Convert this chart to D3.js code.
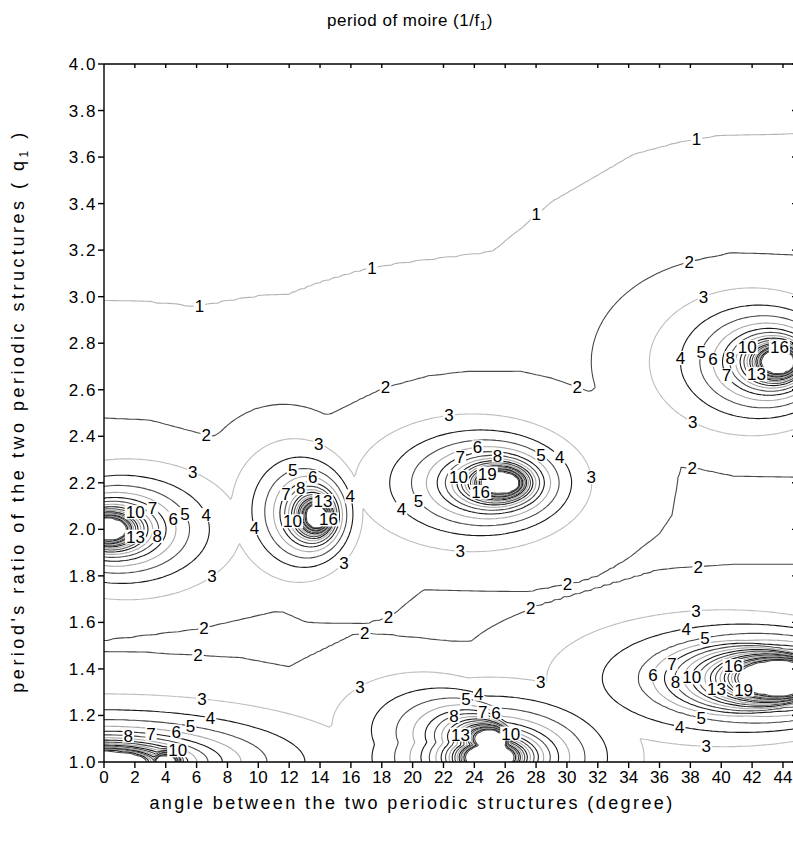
<!DOCTYPE html>
<html>
<head>
<meta charset="utf-8">
<script src="https://cdn.jsdelivr.net/npm/d3@7"></script>
<style>
  body { margin: 0; background: #fff; }
  svg { display: block; font-family: "Liberation Sans", Arial, sans-serif; }
</style>
</head>
<body>
<svg id="chart" width="793" height="844"></svg>
<script>
// traced level lines of the slowly varying part (angle in degree, period ratio q)
const oneLineX = [0, 3, 6, 8, 10, 12, 14, 16.6, 19, 25, 26.1, 28, 29.1, 31.7, 34.3, 37.1, 39.7, 45];
const oneLineQ = [2.98, 2.975, 2.955, 2.98, 3.0, 3.01, 3.06, 3.11, 3.14, 3.19, 3.23, 3.35, 3.41, 3.51, 3.61, 3.66, 3.69, 3.70];
const twoLineX = [0, 3, 6.4, 7.1, 9.9, 12.7, 13.8, 14.8, 16.6, 18.2, 21, 23.5, 27, 29, 30.3, 31.5, 32.0, 32.2, 33, 35.2, 38.2, 40.6, 45];
const twoLineQ = [2.48, 2.47, 2.41, 2.40, 2.52, 2.50, 2.48, 2.50, 2.56, 2.61, 2.66, 2.68, 2.68, 2.65, 2.62, 2.59, 2.62, 2.77, 2.87, 3.03, 3.15, 3.19, 3.18];
const valleyTopX = [0, 6.1, 11, 11.6, 13.1, 16.8, 18.5, 20.7, 27.4, 30.7, 32.1, 33.9, 36, 36.8, 37.1, 37.3, 38.6, 40.8, 45];
const valleyTopQ = [1.52, 1.57, 1.645, 1.645, 1.60, 1.59, 1.62, 1.74, 1.73, 1.77, 1.80, 1.87, 1.98, 2.06, 2.18, 2.27, 2.26, 2.23, 2.225];
const valleyBotX = [0, 3.8, 8.8, 12, 13.1, 16.1, 17, 23.9, 27.8, 31.3, 36, 40.8, 45];
const valleyBotQ = [1.48, 1.47, 1.45, 1.41, 1.45, 1.55, 1.56, 1.51, 1.67, 1.74, 1.83, 1.85, 1.85];

// singular points of the moire period (some drawn as a broad + a narrow part)
const peakX   = [0,    14.0, 26,   44,   46,   46,   25,   25.8, 0,    4];
const peakQ   = [2.0,  2.05, 2.2,  2.72, 1.36, 1.36, 1.02, 1.09, 1.0,  1.0];
const peakK   = [23.5, 12.3, 23.5, 20,   32.9, 19.6, 32.2, 11,   56,   13];
const peakS   = [24,   13,   25,   20,   34,   18.3, 29,   18,   58,   20];
const peakE   = [0.2,  0.36, 0.27, 0.3,  0.5,  0.85, 0,    0.7,  0,    0];
const peakDir = [0,    165,  180,  180,  180,  180,  0,    172,  0,    0];
const peakC   = [0.3,  0.3,  0.3,  0.3,  0.8,  6.5,  0.22, 0.3,  0.3,  0.3];

const levels = d3.range(1, 21);
const labelled = [1, 2, 3, 4, 5, 6, 7, 8, 10, 13, 16, 19];
const xTicks = d3.range(0, 45, 2);
const yTicks = d3.range(0, 16).map(i => 1 + i * 0.2);

const svg = d3.select("#chart");
const x = d3.scaleLinear().domain([0, 45]).range([104, 798.4]);
const y = d3.scaleLinear().domain([1, 4]).range([762, 64]);

const fOne = d3.scaleLinear(oneLineX, oneLineQ).clamp(true);
const fTwo = d3.scaleLinear(twoLineX, twoLineQ).clamp(true);
const fTop = d3.scaleLinear(valleyTopX, valleyTopQ).clamp(true);
const fBot = d3.scaleLinear(valleyBotX, valleyBotQ).clamp(true);

const interp = (qs, vs, q) => {
    if (q <= qs[0]) return vs[0];
    for (let i = 1; i < qs.length; i++) {
        if (q <= qs[i]) {
            const t = (q - qs[i - 1]) / ((qs[i] - qs[i - 1]) || 1e-9);
            return vs[i - 1] + t * (vs[i] - vs[i - 1]);
        }
    }
    return vs[vs.length - 1];
}

const background = (xx, q) => {
    const vb = fBot(xx), vt = fTop(xx), t2 = fTwo(xx), t1 = fOne(xx);
    return interp([0.9, vb, (vb + vt) / 2, vt, (vt + t2) / 2, t2, t1, 4.1],
                  [2.6, 2, 1.85, 2, 2.6, 2, 1, 0.6], q);
}

const peakValue = (i, xx, q) => {
    const dx = xx - peakX[i], dy = (q - peakQ[i]) * peakS[i];
    const r = Math.hypot(dx, dy);
    const a = peakDir[i] * Math.PI / 180;
    const D = r - peakE[i] * (dx * Math.cos(a) + dy * Math.sin(a));
    return peakK[i] / Math.max(D, 1e-6) - peakC[i];
}

const field = (xx, q) => {
    let v = background(xx, q);
    for (let i = 0; i < peakX.length; i++) v = Math.max(v, peakValue(i, xx, q));
    return Math.min(v, 21);
}

// grid a bit larger than the plot so the grid border stays outside the clip
const gx0 = -1, gx1 = 46, gdx = 0.2;
const gq0 = 0.94, gq1 = 4.06, gdq = 0.0125;
const nx = Math.round((gx1 - gx0) / gdx) + 1;
const ny = Math.round((gq1 - gq0) / gdq) + 1;
const values = new Float64Array(nx * ny);
for (let j = 0; j < ny; j++) {
    const q = gq1 - j * gdq;
    for (let i = 0; i < nx; i++) values[j * nx + i] = field(gx0 + i * gdx, q);
}
const contours = d3.contours().size([nx, ny]).thresholds(levels)(values);
const toPx = p => [x(gx0 + (p[0] - 0.5) * gdx), y(gq1 - (p[1] - 0.5) * gdq)];

const lineColor = v => {
    if (v === 1) return "#b4b4b4";
    if (v === 2) return "#484848";
    if (v === 3) return "#bdbdbd";
    return ["#1a1a1a", "#4a4a4a", "#a8a8a8"][(v - 4) % 3];
}

svg.append("defs").append("clipPath").attr("id", "plotClip")
    .append("rect").attr("x", 104).attr("y", 64).attr("width", 694.4).attr("height", 698);

const plot = svg.append("g").attr("clip-path", "url(#plotClip)");
contours.forEach(c => {
    const d = c.coordinates.map(poly => poly.map(ring =>
        "M" + ring.map(p => toPx(p).map(v => v.toFixed(1)).join(",")).join("L") + "Z").join("")).join("");
    plot.append("path").attr("d", d)
        .attr("fill", "none")
        .attr("stroke", lineColor(c.value))
        .attr("stroke-width", 1.1)
        .attr("stroke-linejoin", "round");
});

// contour labels
const placed = [];
const labelG = svg.append("g");
const spacing = 160;
const inside = p => p[0] > 108 && p[0] < 788 && p[1] > 68 && p[1] < 756;

const tryLabel = (pt, v) => {
    const txt = String(v);
    const w = txt.length * 9.5 + 2, h = 17;
    const b = {x0: pt[0] - w / 2, x1: pt[0] + w / 2, y0: pt[1] - h / 2, y1: pt[1] + h / 2};
    if (b.x0 < 106 || b.x1 > 790 || b.y0 < 66 || b.y1 > 761) return false;
    if (placed.some(p => b.x0 < p.x1 && b.x1 > p.x0 && b.y0 < p.y1 && b.y1 > p.y0)) return false;
    placed.push(b);
    labelG.append("rect").attr("x", b.x0).attr("y", pt[1] - 7).attr("width", w).attr("height", 14).attr("fill", "#fff");
    labelG.append("text").attr("x", pt[0]).attr("y", pt[1] + 6)
        .attr("text-anchor", "middle").attr("font-size", 17).attr("fill", "#000").text(txt);
    return true;
}

const pointAt = (run, cum, s) => {
    let k = 1;
    while (k < cum.length - 1 && cum[k] < s) k++;
    const t = (s - cum[k - 1]) / ((cum[k] - cum[k - 1]) || 1);
    return [run[k - 1][0] + t * (run[k][0] - run[k - 1][0]), run[k - 1][1] + t * (run[k][1] - run[k - 1][1])];
}

contours.filter(c => labelled.includes(c.value)).forEach(c => {
    c.coordinates.forEach(poly => poly.forEach(ring => {
        const pts = ring.map(toPx);
        const runs = [];
        let cur = [];
        pts.forEach(p => {
            if (inside(p)) cur.push(p);
            else { if (cur.length > 1) runs.push(cur); cur = []; }
        });
        if (cur.length > 1) runs.push(cur);
        runs.forEach(run => {
            const cum = [0];
            for (let k = 1; k < run.length; k++)
                cum.push(cum[k - 1] + Math.hypot(run[k][0] - run[k - 1][0], run[k][1] - run[k - 1][1]));
            const L = cum[cum.length - 1];
            if (L < 40) return;
            const n = Math.max(1, Math.floor(L / spacing));
            for (let k = 0; k < n; k++) {
                const s0 = (k + 0.5) * L / n;
                for (const off of [0, 15, -15, 30, -30]) {
                    const s = s0 + off;
                    if (s < 0 || s > L) continue;
                    if (tryLabel(pointAt(run, cum, s), c.value)) break;
                }
            }
        });
    }));
});

// axes
const axes = svg.append("g").attr("stroke", "#000").attr("stroke-width", 1.4);
axes.append("line").attr("x1", 104).attr("x2", 104).attr("y1", 64).attr("y2", 762);
axes.append("line").attr("x1", 104).attr("x2", 798.4).attr("y1", 762).attr("y2", 762);
axes.append("line").attr("x1", 104).attr("x2", 798.4).attr("y1", 64).attr("y2", 64);
axes.append("line").attr("x1", 798.4).attr("x2", 798.4).attr("y1", 64).attr("y2", 762);

xTicks.forEach(t => {
    axes.append("line").attr("x1", x(t)).attr("x2", x(t)).attr("y1", 762).attr("y2", 768);
    if (t % 10 !== 0) axes.append("line").attr("x1", x(t)).attr("x2", x(t)).attr("y1", 64).attr("y2", 68);
});
yTicks.forEach(t => {
    axes.append("line").attr("x1", 98).attr("x2", 104).attr("y1", y(t)).attr("y2", y(t));
    axes.append("line").attr("x1", 792).attr("x2", 798.4).attr("y1", y(t)).attr("y2", y(t));
});

svg.append("g").selectAll("text").data(xTicks).join("text")
    .attr("x", d => x(d)).attr("y", 783)
    .attr("text-anchor", "middle").attr("font-size", 17).text(d => d);

svg.append("g").selectAll("text").data(yTicks).join("text")
    .attr("x", 97).attr("y", d => y(d) + 6)
    .attr("text-anchor", "end").attr("font-size", 17)
    .attr("letter-spacing", 1.5)
    .text(d => d3.format(".1f")(d));

// titles
svg.append("text").attr("x", 412).attr("y", 809)
    .attr("text-anchor", "middle").attr("font-size", 18)
    .attr("letter-spacing", 2.4)
    .text("angle between the two periodic structures (degree)");

const title = svg.append("text").attr("x", 410).attr("y", 26)
    .attr("text-anchor", "middle").attr("font-size", 17).attr("letter-spacing", 0.5);
title.append("tspan").text("period of moire (1/f");
title.append("tspan").attr("font-size", 12).attr("dy", 4).text("1");
title.append("tspan").attr("dy", -4).text(")");

const ytitle = svg.append("text")
    .attr("transform", "translate(24,411) rotate(-90)")
    .attr("text-anchor", "middle").attr("font-size", 18)
    .attr("letter-spacing", 3.5);
ytitle.append("tspan").text("period's ratio of the two periodic structures  ( q");
ytitle.append("tspan").attr("font-size", 12).attr("dy", 4).text("1");
ytitle.append("tspan").attr("dy", -4).text(" )");
</script>
</body>
</html>
